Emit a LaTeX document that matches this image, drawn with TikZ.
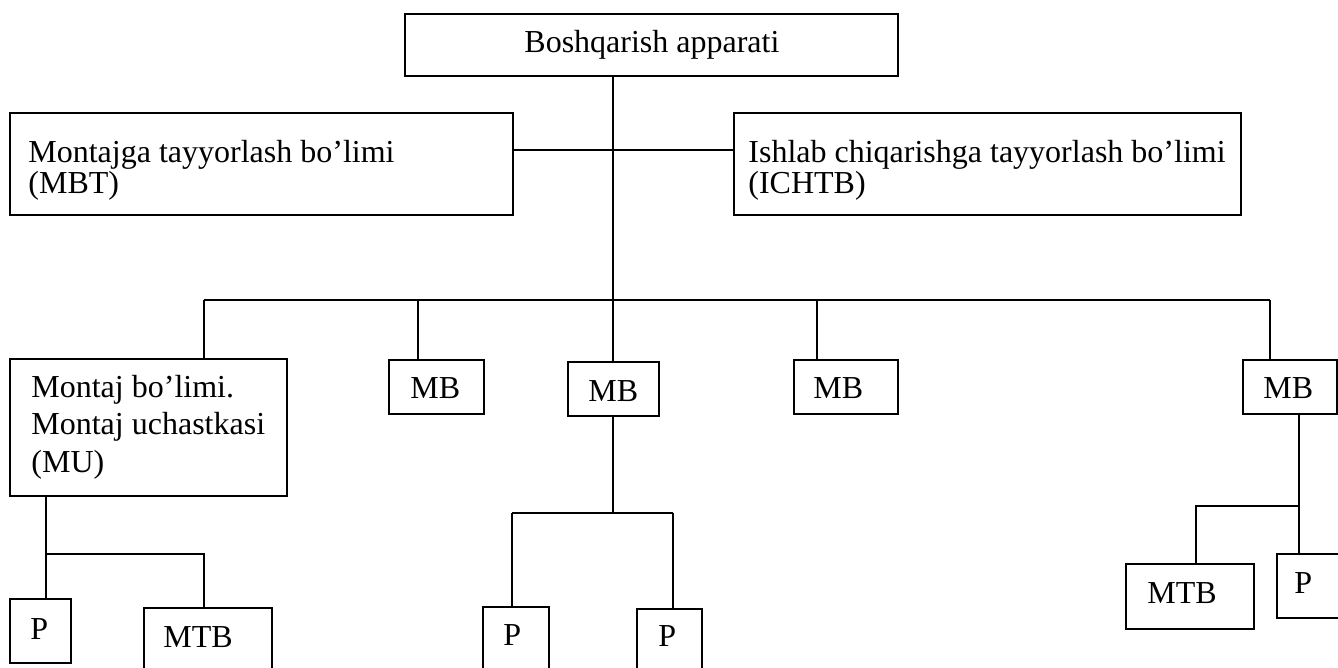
\documentclass[tikz,border=0pt]{standalone}
\usepackage{fontspec}
\setmainfont{Liberation Serif}
\begin{document}
\begin{tikzpicture}[x=0.5pt,y=-0.5pt,
  unit/.style={draw, line width=1pt, inner sep=0pt, anchor=north west},
  caption/.style={anchor=base west, inner sep=0pt, align=left,
    font=\fontsize{16pt}{15.5pt}\selectfont},
  wire/.style={line width=1pt}]
\useasboundingbox (0,0) rectangle (1338,668);
\clip (0,0) rectangle (1338,668);

% boxes
\node[unit, minimum width=246.5pt, minimum height=31pt]   (top)   at (404,13)  {};
\node[unit, minimum width=251.5pt, minimum height=51pt]   (mbt)   at (9,112)   {};
\node[unit, minimum width=253.5pt, minimum height=51pt]   (ichtb) at (733,112) {};
\node[unit, minimum width=138.5pt, minimum height=68.5pt] (mu)    at (9,358)   {};
\node[unit, minimum width=47.5pt,  minimum height=27pt]   (mb1)   at (388,359) {};
\node[unit, minimum width=45.5pt,  minimum height=27pt]   (mb2)   at (567,361) {};
\node[unit, minimum width=52pt,    minimum height=27pt]   (mb3)   at (793,359) {};
\node[unit, minimum width=47pt,    minimum height=27pt]   (mb5)   at (1242,359) {};
\node[unit, minimum width=30.5pt,  minimum height=32pt]   (p1)    at (9,598)   {};
\node[unit, minimum width=64pt,    minimum height=42pt]   (mtb1)  at (143,607) {};
\node[unit, minimum width=33pt,    minimum height=42pt]   (p2)    at (482,606) {};
\node[unit, minimum width=32.5pt,  minimum height=42pt]   (p3)    at (636,608) {};
\node[unit, minimum width=64pt,    minimum height=32.5pt] (mtb2)  at (1125,563) {};
\node[unit, minimum width=37pt,    minimum height=32pt]   (p4)    at (1276,553) {};

% texts (multi-line texts are anchored on their last baseline)
\node[caption] (topT)   at (524,53)  {Boshqarish apparati};
\node[caption] (mbtT)   at (28,194)  {Montajga tayyorlash bo’limi\\(MBT)};
\node[caption] (ichtbT) at (748,194) {Ishlab chiqarishga tayyorlash bo’limi\\(ICHTB)};
\node[caption, font=\fontsize{16pt}{18.75pt}\selectfont] (muT) at (31,472)
  {Montaj bo’limi.\\Montaj uchastkasi\\(MU)};
\node[caption] (mb1T)  at (410,398)  {MB};
\node[caption] (mb2T)  at (588,401)  {MB};
\node[caption] (mb3T)  at (813,398)  {MB};
\node[caption] (mb5T)  at (1263,398) {MB};
\node[caption] (p1T)   at (30,639)   {P};
\node[caption] (mtb1T) at (163,647)  {MTB};
\node[caption] (p2T)   at (503,645)  {P};
\node[caption] (p3T)   at (658,646)  {P};
\node[caption] (mtb2T) at (1147,603) {MTB};
\node[caption] (p4T)   at (1294,593) {P};

% junction points
\coordinate (hub)   at (613,300);
\coordinate (link)  at (613,150);
\coordinate (busL)  at (204,300);
\coordinate (busR)  at (1270,300);
\coordinate (b1)    at (418,300);
\coordinate (b3)    at (817,300);
\coordinate (muJ)   at (46,554);
\coordinate (mtbJ)  at (204,554);
\coordinate (mbJ)   at (613,513);
\coordinate (mbJL)  at (512,513);
\coordinate (mbJR)  at (673,513);
\coordinate (rJ)    at (1299,506);
\coordinate (rJL)   at (1196,506);

% upper connectors
\draw[wire] (top.south -| hub) -- (hub);
\draw[wire] (mbt.east |- link) -- (ichtb.west |- link);
\draw[wire] (busL) -- (busR);
\draw[wire] (busL) -- (busL |- mu.north);
\draw[wire] (b1) -- (b1 |- mb1.north);
\draw[wire] (hub) -- (hub |- mb2.north);
\draw[wire] (b3) -- (b3 |- mb3.north);
\draw[wire] (busR) -- (busR |- mb5.north);

% lower connectors
\draw[wire] (mu.south -| muJ) -- (muJ |- p1.north);
\draw[wire] (muJ) -- (mtbJ) -- (mtbJ |- mtb1.north);
\draw[wire] (mb2.south -| mbJ) -- (mbJ);
\draw[wire] (mbJL) -- (mbJR);
\draw[wire] (mbJL) -- (mbJL |- p2.north);
\draw[wire] (mbJR) -- (mbJR |- p3.north);
\draw[wire] (mb5.south -| rJ) -- (rJ |- p4.north);
\draw[wire] (rJ) -- (rJL) -- (rJL |- mtb2.north);
\end{tikzpicture}
\end{document}
